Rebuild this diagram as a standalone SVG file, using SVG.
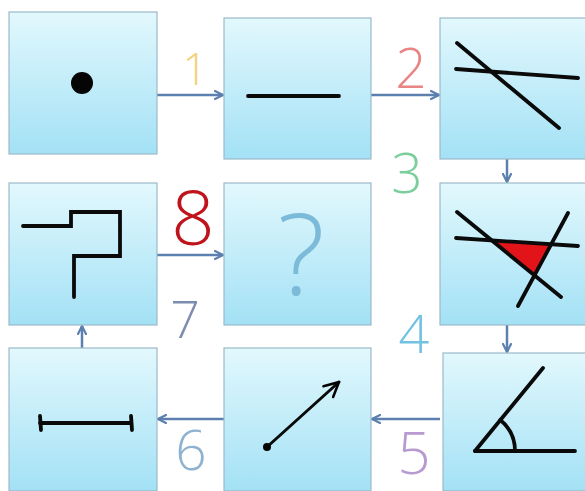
<svg xmlns="http://www.w3.org/2000/svg" width="585" height="491" viewBox="0 0 585 491">
<defs>
<linearGradient id="g" x1="0" y1="0" x2="0" y2="1">
<stop offset="0" stop-color="#e2f8fd"/>
<stop offset="1" stop-color="#a3e1f5"/>
</linearGradient>
<marker id="ah" viewBox="0 0 10 10" refX="9" refY="5" markerWidth="4" markerHeight="4" orient="auto" markerUnits="strokeWidth">
<path d="M1,1 L9,5 L1,9" fill="none" stroke="#5b7fae" stroke-width="2.2" stroke-linecap="round" stroke-linejoin="round"/>
</marker>
<marker id="bh" viewBox="0 0 10 10" refX="9" refY="5" markerWidth="6" markerHeight="6" orient="auto" markerUnits="strokeWidth">
<path d="M1,1 L9,5 L1,9" fill="none" stroke="#000" stroke-width="1.4" stroke-linecap="round" stroke-linejoin="round"/>
</marker>
</defs>
<style>
.box{fill:url(#g);stroke:#9cb9c9;stroke-width:1.2}
.ink{fill:none;stroke:#0a0a0a;stroke-width:3.8;stroke-linecap:round;stroke-linejoin:miter}
.conn{fill:none;stroke:#5b7fae;stroke-width:2.5;marker-end:url(#ah)}
.num{font-family:"Open Sans","Liberation Sans","DejaVu Sans",sans-serif;font-weight:300;text-anchor:middle}
</style>
<rect width="585" height="491" fill="#ffffff"/>

<g id="connectors">
<line class="conn" x1="157" y1="95" x2="223" y2="95"/>
<line class="conn" x1="371" y1="95" x2="439" y2="95"/>
<line class="conn" x1="507" y1="159" x2="507" y2="182"/>
<line class="conn" x1="507" y1="325" x2="507" y2="352"/>
<line class="conn" x1="440" y1="419" x2="372" y2="419"/>
<line class="conn" x1="224" y1="419" x2="158" y2="419"/>
<line class="conn" x1="82" y1="348" x2="82" y2="326"/>
<line class="conn" x1="157" y1="255" x2="223" y2="255"/>
</g>

<g id="node-point">
<rect class="box" x="9" y="12" width="148" height="142"/>
<circle cx="82" cy="83" r="11" fill="#050505"/>
</g>

<g id="node-line">
<rect class="box" x="224" y="18" width="147" height="141"/>
<line class="ink" x1="248" y1="96" x2="339" y2="96"/>
</g>

<g id="node-two-lines">
<rect class="box" x="440" y="18" width="146" height="141"/>
<line class="ink" x1="457" y1="43" x2="559" y2="128"/>
<line class="ink" x1="456" y1="69" x2="578" y2="78"/>
</g>

<g id="node-triangle">
<rect class="box" x="440" y="183" width="146" height="142"/>
<polygon points="492,240 551,244 534.5,275" fill="#e2141a"/>
<line class="ink" x1="457" y1="212" x2="561" y2="297"/>
<line class="ink" x1="456" y1="238" x2="578" y2="246"/>
<line class="ink" x1="568" y1="213" x2="518" y2="306"/>
</g>

<g id="node-angle">
<rect class="box" x="443" y="353" width="143" height="138"/>
<line class="ink" x1="475" y1="451" x2="575" y2="451"/>
<line class="ink" x1="475" y1="451" x2="543" y2="368"/>
<path class="ink" d="M500.3,420 A40,40 0 0 1 515,451" stroke-width="3"/>
</g>

<g id="node-ray">
<rect class="box" x="224" y="348" width="147" height="143"/>
<line x1="267" y1="447" x2="339" y2="382" stroke="#0a0a0a" stroke-width="3" stroke-linecap="round" marker-end="url(#bh)"/>
<circle cx="267" cy="447" r="4" fill="#050505"/>
</g>

<g id="node-segment">
<rect class="box" x="9" y="348" width="148" height="143"/>
<line class="ink" x1="40" y1="423" x2="131" y2="423"/>
<line class="ink" x1="40" y1="416" x2="41" y2="430" stroke-width="4.5"/>
<line class="ink" x1="131" y1="416" x2="132" y2="430" stroke-width="4.5"/>
</g>

<g id="node-polyline">
<rect class="box" x="9" y="183" width="148" height="142"/>
<polyline class="ink" points="23,226 71,226 71,212 120,212 120,256 74,256 74,297" stroke-width="3"/>
</g>

<g id="node-question">
<rect class="box" x="224" y="183" width="147" height="142"/>
<text x="301" y="295" font-family="'Open Sans','DejaVu Sans',sans-serif" font-weight="300" font-size="112" fill="#7bbad8" text-anchor="middle">?</text>
</g>

<g id="labels">
<text class="num" x="195" y="85" font-size="44" fill="#f2d27c">1</text>
<text class="num" x="411" y="88" font-size="55" fill="#e98585">2</text>
<text class="num" x="407" y="193" font-size="55" fill="#7ccf9c">3</text>
<text class="num" x="193" y="245" font-size="76" font-weight="400" fill="#c0141c">8</text>
<text class="num" x="185" y="338" font-size="52" fill="#7d8db0">7</text>
<text class="num" x="414" y="353" font-size="54" fill="#72c2e4">4</text>
<text class="num" x="414" y="474" font-size="58" fill="#b79ad0">5</text>
<text class="num" x="191" y="470" font-size="55" fill="#8fb2d0">6</text>
</g>
</svg>
